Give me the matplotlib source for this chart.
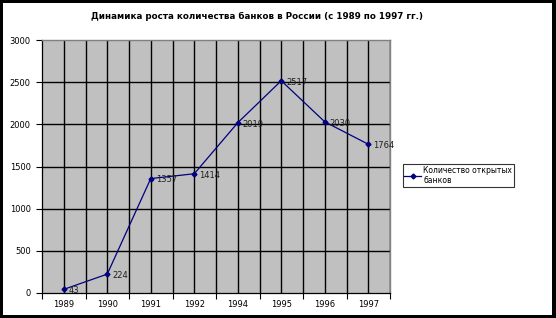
import matplotlib
matplotlib.use("Agg")
import matplotlib.pyplot as plt
from matplotlib.patches import Rectangle
from matplotlib.lines import Line2D
import numpy as np

years = ["1989", "1990", "1991", "1992", "1994", "1995", "1996", "1997"]
banks = [43, 224, 1357, 1414, 2019, 2517, 2030, 1764]
title = "Динамика роста количества банков в России (с 1989 по 1997 гг.)"
series_name = "Количество открытых\nбанков"
yticks = [0, 500, 1000, 1500, 2000, 2500, 3000]

W, H = 556, 318
fig = plt.figure(figsize=(W / 100, H / 100), dpi=100)
fig.patch.set_facecolor("black")
fig.patches.append(Rectangle((3 / W, 3 / H), (552 - 3) / W, (315 - 3) / H,
                             transform=fig.transFigure, facecolor="white",
                             edgecolor="none", zorder=-10))

ax = fig.add_axes([42 / W, (H - 293) / H, (390 - 42) / W, (293 - 40) / H])
ax.set_facecolor("#C0C0C0")
n = len(years)
x = np.arange(n)
ax.set_xlim(-0.5, n - 0.5)
ax.set_ylim(0, 3000)

# grid lines
for gx in np.arange(-0.5, n, 0.5)[1:]:
    ax.axvline(gx, color="black", lw=1.0, zorder=1)
for gy in yticks[1:-1]:
    ax.axhline(gy, color="black", lw=1.0, zorder=1)

ax.plot(x, banks, color="#000080", lw=0.9, marker="D", markersize=2.5, zorder=3)
for xi, v in zip(x, banks):
    ax.annotate(str(v), (xi, v), xytext=(3.5, -1), textcoords="offset points",
                fontsize=6, color="#202020", va="center", ha="left", zorder=4)

ax.set_xticks(np.arange(-0.5, n, 1.0))
ax.set_xticklabels([])
ax.set_xticks(x, minor=True)
ax.set_xticklabels(years, minor=True, fontsize=6)
ax.tick_params(axis="x", which="major", length=4, direction="out", width=0.8)
ax.tick_params(axis="x", which="minor", length=0, pad=5)
ax.set_yticks(yticks)
ax.set_yticklabels([str(t) for t in yticks], fontsize=6)
ax.tick_params(axis="y", length=4, width=0.8, pad=4)

for s in ["top", "right"]:
    ax.spines[s].set_color("#808080")
    ax.spines[s].set_linewidth(1.0)
for s in ["left", "bottom"]:
    ax.spines[s].set_color("black")
    ax.spines[s].set_linewidth(0.9)

fig.text(257 / W, 1 - 16 / H, title, ha="center", va="center",
         fontsize=6.3, fontweight="bold")

# legend
handle = Line2D([], [], color="#000080", lw=0.9, marker="D", markersize=2.5)
leg = fig.legend([handle], [series_name], loc="center left",
                 bbox_to_anchor=(399 / W, 1 - 175.5 / H), fontsize=5.5,
                 frameon=True, fancybox=False, edgecolor="black",
                 handlelength=2.2, handletextpad=0.3, borderpad=0.2,
                 labelspacing=0.2)
leg.get_frame().set_linewidth(0.8)

fig.savefig("out.png", dpi=100, facecolor=fig.get_facecolor())
